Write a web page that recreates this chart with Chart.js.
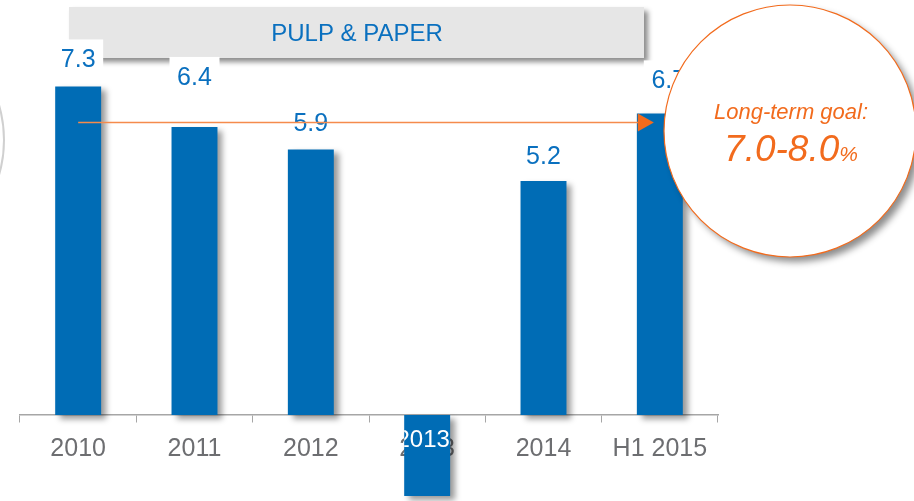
<!DOCTYPE html>
<html>
<head>
<meta charset="utf-8">
<script src="https://cdn.jsdelivr.net/npm/chart.js@4.4.1/dist/chart.umd.min.js"></script>
<style>
  html, body { margin: 0; padding: 0; background: #fff; }
  #wrap { width: 914px; height: 501px; }
</style>
</head>
<body>
<div id="wrap"><canvas id="barChart"></canvas></div>
<script>
  // data
  var years = ['2010', '2011', '2012', '2013', '2014', 'H1 2015'];
  var margins = [7.3, 6.4, 5.9, -1.8, 5.2, 6.7];
  var valueLabels = ['7.3', '6.4', '5.9', '', '5.2', '6.7'];
  var goalLevel = 6.5;
  var title = 'PULP & PAPER';
  var goalText = 'Long-term goal:';
  var goalRange = '7.0-8.0';

  // where each value label sits relative to its bar (px)
  var labelLift = [26, 49, 25, 0, 24, 32];
  var labelShift = [0, 0, 0, 0, 0, 9];

  var blue = '#006cb5';
  var orange = '#f26b1d';
  var fontName = '"Liberation Sans", Arial, sans-serif';

  // banner + faint circle on the left, behind everything
  var backdrop = {
    id: 'backdrop',
    beforeDraw: function(chart){
      var ctx = chart.ctx;
      ctx.save();
      ctx.strokeStyle = '#d0d0d0';
      ctx.lineWidth = 2;
      ctx.beginPath();
      ctx.arc(-122, 140, 126, 0, Math.PI * 2);
      ctx.stroke();

      ctx.shadowColor = 'rgba(0,0,0,0.45)';
      ctx.shadowBlur = 5;
      ctx.shadowOffsetX = 4;
      ctx.shadowOffsetY = 4;
      ctx.fillStyle = '#e6e6e6';
      ctx.fillRect(69, 7, 575, 51);
      ctx.restore();

      ctx.save();
      ctx.fillStyle = '#0a70bf';
      ctx.font = '24px ' + fontName;
      ctx.textAlign = 'center';
      ctx.textBaseline = 'middle';
      ctx.fillText(title, 357, 34);
      ctx.restore();
    }
  };

  // shadow under the bars
  var barShadow = {
    id: 'barShadow',
    beforeDatasetsDraw: function(chart){
      var ctx = chart.ctx;
      ctx.save();
      ctx.shadowColor = 'rgba(0,0,0,0.4)';
      ctx.shadowBlur = 6;
      ctx.shadowOffsetX = 5;
      ctx.shadowOffsetY = 4;
    },
    afterDatasetsDraw: function(chart){
      chart.ctx.restore();
    }
  };

  var overlay = {
    id: 'overlay',
    afterDatasetsDraw: function(chart){
      var ctx = chart.ctx;
      var meta = chart.getDatasetMeta(0);
      var yScale = chart.scales.y;
      var xScale = chart.scales.x;

      // white 2013 on top of the negative bar
      meta.data.forEach(function(bar, i){
        if (margins[i] >= 0) return;
        var half = bar.width / 2;
        ctx.save();
        ctx.beginPath();
        ctx.rect(bar.x - half, bar.base, bar.width, bar.y - bar.base);
        ctx.clip();
        ctx.fillStyle = '#ffffff';
        ctx.font = '24px ' + fontName;
        ctx.textAlign = 'center';
        ctx.textBaseline = 'middle';
        ctx.fillText(years[i], bar.x - 4, 440);
        ctx.restore();
      });

      // value labels with white boxes
      meta.data.forEach(function(bar, i){
        if (!valueLabels[i]) return;
        var cx = bar.x + labelShift[i];
        var cy = bar.y - labelLift[i];
        ctx.save();
        ctx.fillStyle = '#ffffff';
        ctx.fillRect(cx - 25, cy - 21, 50, 34);
        ctx.fillStyle = '#0a70bf';
        ctx.font = '25px ' + fontName;
        ctx.textAlign = 'center';
        ctx.textBaseline = 'middle';
        ctx.fillText(valueLabels[i], cx, cy);
        ctx.restore();
      });

      // goal arrow
      var gy = yScale.getPixelForValue(goalLevel);
      var x0 = xScale.getPixelForValue(0);
      var x1 = xScale.getPixelForValue(years.length - 1) - 6;
      ctx.save();
      ctx.strokeStyle = '#f58b4c';
      ctx.lineWidth = 1.5;
      ctx.beginPath();
      ctx.moveTo(x0, gy);
      ctx.lineTo(x1 - 14, gy);
      ctx.stroke();
      ctx.fillStyle = '#f26b1d';
      ctx.beginPath();
      ctx.moveTo(x1 - 16, gy - 9);
      ctx.lineTo(x1, gy);
      ctx.lineTo(x1 - 16, gy + 9);
      ctx.closePath();
      ctx.fill();
      ctx.restore();

      // goal bubble
      ctx.save();
      ctx.shadowColor = 'rgba(0,0,0,0.45)';
      ctx.shadowBlur = 7;
      ctx.shadowOffsetX = 5;
      ctx.shadowOffsetY = 5;
      ctx.fillStyle = '#ffffff';
      ctx.beginPath();
      ctx.arc(790, 131, 126, 0, Math.PI * 2);
      ctx.fill();
      ctx.restore();
      ctx.save();
      ctx.strokeStyle = orange;
      ctx.lineWidth = 1.2;
      ctx.beginPath();
      ctx.arc(790, 131, 126, 0, Math.PI * 2);
      ctx.stroke();

      ctx.fillStyle = orange;
      ctx.textBaseline = 'alphabetic';
      ctx.textAlign = 'center';
      ctx.font = 'italic 22px ' + fontName;
      ctx.fillText(goalText, 791, 119);
      ctx.font = 'italic 37px ' + fontName;
      var w1 = ctx.measureText(goalRange).width;
      ctx.font = 'italic 21px ' + fontName;
      var w2 = ctx.measureText('%').width;
      var sx = 791 - (w1 + w2) / 2;
      ctx.textAlign = 'left';
      ctx.font = 'italic 37px ' + fontName;
      ctx.fillText(goalRange, sx, 161);
      ctx.font = 'italic 21px ' + fontName;
      ctx.fillText('%', sx + w1, 161);
      ctx.restore();
    }
  };

  var ctxB = document.getElementById('barChart').getContext('2d');
  var myBarChart = new Chart(ctxB, {
    type: 'bar',
    data: {
      labels: years,
      datasets: [{
        data: margins,
        backgroundColor: blue,
        borderWidth: 0,
        categoryPercentage: 1,
        barPercentage: 0.395
      }]
    },
    options: {
      responsive: true,
      maintainAspectRatio: false,
      animation: false,
      layout: {
        padding: { left: 20, right: 196, top: 0, bottom: 0 }
      },
      plugins: {
        legend: { display: false },
        tooltip: { enabled: false }
      },
      scales: {
        x: {
          position: { y: 0 },
          border: { display: true, color: '#a6a6a6', width: 1.5 },
          grid: {
            display: true,
            drawOnChartArea: false,
            drawTicks: true,
            tickLength: 7,
            color: '#a6a6a6',
            offset: true
          },
          ticks: {
            color: '#6d6e71',
            font: { family: fontName, size: 25 },
            padding: 12,
            maxRotation: 0
          }
        },
        y: {
          display: false,
          min: -1.91,
          max: 9.22
        }
      }
    },
    plugins: [backdrop, barShadow, overlay]
  });
</script>
</body>
</html>
